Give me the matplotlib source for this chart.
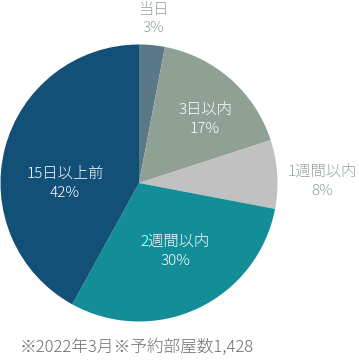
import matplotlib
matplotlib.use("Agg")
import matplotlib.pyplot as plt

plt.rcParams['font.family'] = ['Noto Sans CJK JP', 'DejaVu Sans']

# Booking lead time share
categories = ["当日", "3日以内", "1週間以内", "2週間以内", "15日以上前"]
shares = [3, 17, 8, 30, 42]
footer = "※2022年3月※予約部屋数1,428"

colors = ["#5b7888", "#8fa195", "#c0c1c0", "#138e99", "#135077"]
# label anchor points (pixel coords, y from top) and text colours
label_pos = [(153, 19), (205, 119), (322, 181), (175, 251), (65, 183)]
label_colors = ["#93a29b", "white", "#93a29b", "white", "white"]

W, H = 359, 361
fig = plt.figure(figsize=(W / 100, H / 100), dpi=100)
ax = fig.add_axes([0, 0, 1, 1])

cx, cy, r = 139, H - 183, 138.5
ax.pie(shares, colors=colors, startangle=90, counterclock=False,
       center=(cx, cy), radius=r, frame=True,
       wedgeprops=dict(linewidth=0))
ax.set_xlim(0, W)
ax.set_ylim(0, H)
ax.set_aspect("equal")
ax.axis("off")

for name, val, (px, py), c in zip(categories, shares, label_pos, label_colors):
    ax.text(px, H - py, f"{name}\n{val}%", ha="center", va="center",
            fontsize=11, color=c, linespacing=1.45, fontweight="light")

ax.text(137, H - 347, footer, ha="center", va="center",
        fontsize=12, color="#6e6e6e", fontweight="light")

fig.savefig("out.png", dpi=100)
